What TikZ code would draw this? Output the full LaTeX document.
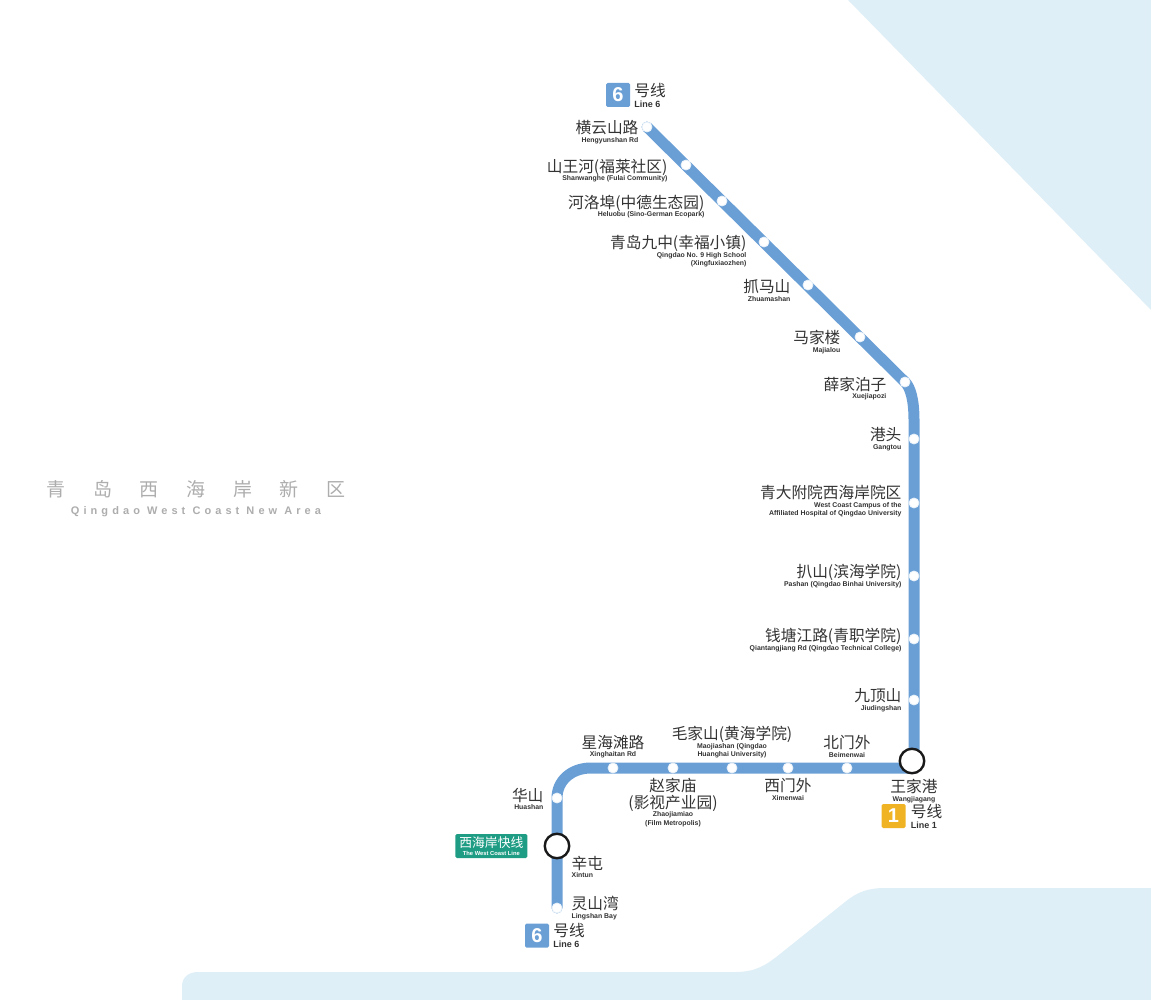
\documentclass[tikz,border=0pt]{standalone}
\usepackage{fontspec}
\setmainfont{Liberation Sans}
\newfontfamily\cjk{Noto Sans CJK SC}
\newfontfamily\cjkwide[LetterSpace=146]{Noto Sans CJK SC}
\newfontfamily\latinwide[LetterSpace=37]{Liberation Sans}
\usetikzlibrary{positioning, backgrounds}
\definecolor{metroblue}{HTML}{6A9FD6}
\definecolor{metroamber}{HTML}{F0B323}
\definecolor{metrogreen}{HTML}{1E9C84}
\definecolor{seablue}{HTML}{DFEFF7}
\definecolor{inkgrey}{HTML}{333333}
\newcommand{\stcjk}[1]{{\cjk\mdseries\fontsize{15.7}{8.5}\selectfont #1}}
\newcommand{\stlabel}[2]{\stcjk{#1}\\ #2}
\newcommand{\linecjk}{{\cjk\mdseries\fontsize{15.7}{11}\selectfont 号线}}

\begin{document}
\begin{tikzpicture}[x=1pt, y=-1pt, auto]
        % Styles
        \tikzstyle{sea} = [fill=seablue, draw=none]
        \tikzstyle{station} = [circle, draw=white!85!metroblue, line width=0.8pt, fill=white,
            inner sep=0pt, minimum size=10pt]
        \tikzstyle{transfer} = [circle, draw=black!90, line width=2.4pt, fill=white,
            inner sep=0pt, minimum size=24.5pt]
        \tikzstyle{line} = [draw=metroblue, line width=11pt, line cap=round, line join=round]
        \tikzstyle{stname} = [align=right, inner sep=0pt, text=inkgrey,
            font=\fontsize{6.9}{8.5}\selectfont\bfseries]
        \tikzstyle{stnamec} = [stname, align=center]
        \tikzstyle{stnamel} = [stname, align=left]
        \tikzstyle{badge} = [rectangle, rounded corners=1.5pt, minimum size=24pt, inner sep=0pt,
            text=white, font=\fontsize{20}{20}\selectfont\bfseries]
        \tikzstyle{linename} = [align=left, inner sep=0pt, text=inkgrey,
            font=\fontsize{9}{11}\selectfont\bfseries]

        \useasboundingbox (0,0) rectangle (1151,1000);

        % Stations
        \node [station] (hengyun) at (647,127) {};
        \node [station] (shanwang) at (686,165) {};
        \node [station] (heluo) at (722,201) {};
        \node [station] (jiuzhong) at (764,242) {};
        \node [station] (zhuama) at (808,285) {};
        \node [station] (majia) at (860,337) {};
        \node [station] (xuejia) at (905,382) {};
        \node [station] (gangtou) at (914,439) {};
        \node [station] (qingda) at (914,503) {};
        \node [station] (pashan) at (914,576) {};
        \node [station] (qiantang) at (914,639) {};
        \node [station] (jiuding) at (914,700) {};
        \node [station] (beimen) at (847,768) {};
        \node [station] (ximen) at (788,768) {};
        \node [station] (maojia) at (732,768) {};
        \node [station] (zhaojia) at (673,768) {};
        \node [station] (xinghai) at (613,768) {};
        \node [station] (huashan) at (557,798) {};
        \node [station] (lingshan) at (557,908) {};
        \node [transfer] (wangjia) at (912,761) {};
        \node [transfer] (xintun) at (557,846) {};
        \coordinate (bend) at (914,420);
        \coordinate (corner) at (914,768);
        \coordinate (turn) at (591,768);

        % Sea and line
        \begin{scope}[on background layer]
            \path [sea] (848,0) -- (1151,310) -- (1151,0) -- cycle;
            \path [sea] (182,1000) -- (182,986) .. controls (182,977) and (189,972) .. (198,972)
                -- (735,972) .. controls (755,972) and (765,966) .. (780,954)
                -- (845,902) .. controls (857,892) and (868,888) .. (885,888)
                -- (1151,888) -- (1151,1000) -- cycle;
            \path [line] (hengyun.center) -- (xuejia.center)
                .. controls (910.5,387.5) and (914,400) .. (bend)
                -- (corner) -- (turn)
                .. controls (571,768) and (557,781) .. (huashan.center)
                -- (lingshan.center);
        \end{scope}

        % Names along the right side
        \node [stname, left=3pt of hengyun, yshift=-5pt] (hengyunname) {\stlabel{横云山路}{Hengyunshan Rd}};
        \node [stname, left=13pt of shanwang, yshift=-5.5pt] (shanwangname) {\stlabel{山王河(福莱社区)}{Shanwanghe (Fulai Community)}};
        \node [stname, left=12pt of heluo, yshift=-5.5pt] (heluoname) {\stlabel{河洛埠(中德生态园)}{Heluobu (Sino-German Ecopark)}};
        \node [stname, left=12pt of jiuzhong, yshift=-9.5pt] (jiuzhongname) {\stlabel{青岛九中(幸福小镇)}{Qingdao No. 9 High School\\(Xingfuxiaozhen)}};
        \node [stname, left=12pt of zhuama, yshift=-5.5pt] (zhuamaname) {\stlabel{抓马山}{Zhuamashan}};
        \node [stname, left=14pt of majia, yshift=-5pt] (majianame) {\stlabel{马家楼}{Majialou}};
        \node [stname, left=13pt of xuejia, yshift=-6.5pt] (xuejianame) {\stlabel{薛家泊子}{Xuejiapozi}};
        \node [stname, left=7pt of gangtou] (gangtouname) {\stlabel{港头}{Gangtou}};
        \node [stname, left=7pt of qingda, yshift=1.5pt] (qingdaname) {\stlabel{青大附院西海岸院区}{West Coast Campus of the\\Affiliated Hospital of Qingdao University}};
        \node [stname, left=7pt of pashan] (pashanname) {\stlabel{扒山(滨海学院)}{Pashan (Qingdao Binhai University)}};
        \node [stname, left=7pt of qiantang, yshift=-1pt] (qiantangname) {\stlabel{钱塘江路(青职学院)}{Qiantangjiang Rd (Qingdao Technical College)}};
        \node [stname, left=7pt of jiuding] (jiudingname) {\stlabel{九顶山}{Jiudingshan}};

        % Names along the bottom
        \node [stnamec, above=5pt of beimen] (beimenname) {\stlabel{北门外}{Beimenwai}};
        \node [stnamec, below=5pt of ximen] (ximenname) {\stlabel{西门外}{Ximenwai}};
        \node [stnamec, above=4pt of maojia] (maojianame) {\stlabel{毛家山(黄海学院)}{Maojiashan (Qingdao\\Huanghai University)}};
        \node [stnamec, below=5pt of zhaojia] (zhaojianame) {\stcjk{赵家庙}\\[1pt]\stlabel{(影视产业园)}{Zhaojiamiao\\(Film Metropolis)}};
        \node [stnamec, above=4pt of xinghai] (xinghainame) {\stlabel{星海滩路}{Xinghaitan Rd}};
        \node [stnamec, below=5pt of wangjia, xshift=2pt] (wangjianame) {\stlabel{王家港}{Wangjiagang}};
        \node [stname, left=8pt of huashan, yshift=-1pt] (huashanname) {\stlabel{华山}{Huashan}};
        \node [stnamel, right=1pt of xintun, yshift=-21pt] (xintunname) {\stlabel{辛屯}{Xintun}};
        \node [stnamel, right=9pt of lingshan] (lingshanname) {\stlabel{灵山湾}{Lingshan Bay}};

        % Badges
        \node [badge, fill=metroblue] (sixtop) at (618,95) {6};
        \node [linename, right=4pt of sixtop] (sixtopname) {\linecjk\\Line 6};
        \node [badge, fill=metroamber] (onebadge) at (893.5,816) {1};
        \node [linename, right=5pt of onebadge] (onename) {\linecjk\\Line 1};
        \node [badge, fill=metroblue] (sixbottom) at (537,935.5) {6};
        \node [linename, right=4pt of sixbottom] (sixbottomname) {\linecjk\\Line 6};
        \node [rectangle, fill=metrogreen, rounded corners=1.5pt, minimum width=72pt, minimum height=24pt,
            inner sep=0pt, align=center, text=white, font=\fontsize{5.8}{8}\selectfont\bfseries,
            left=16pt of xintun] (westcoast) {{\cjk\mdseries\fontsize{12.8}{8}\selectfont 西海岸快线}\\The West Coast Line};

        % Area name
        \node [inner sep=0pt, text=black!32, align=center, font=\fontsize{19}{21}\selectfont] (area) at (196,499)
            {{\cjkwide 青岛西海岸新区}\\[-3pt]{\fontsize{11}{11}\selectfont\bfseries\latinwide Qingdao West Coast New Area}};
\end{tikzpicture}
\end{document}
